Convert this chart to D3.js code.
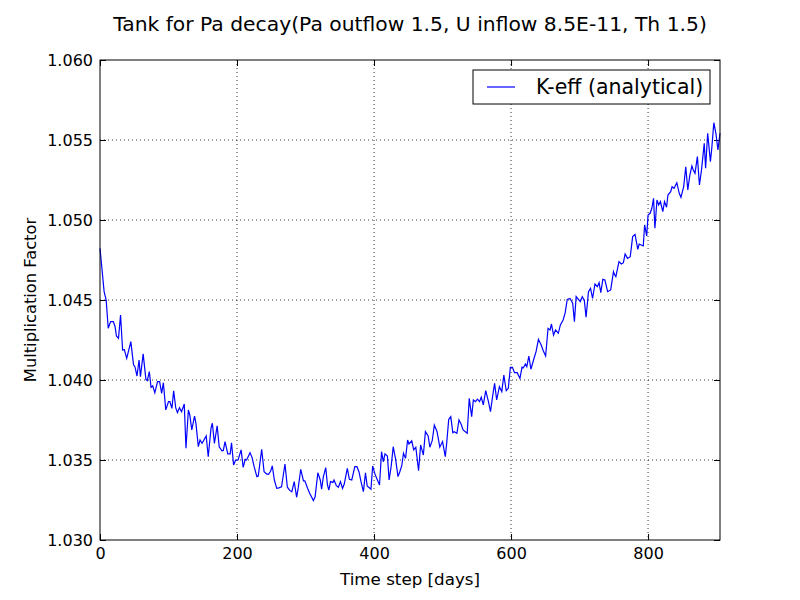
<!DOCTYPE html>
<html>
<head>
<meta charset="utf-8">
<script src="https://cdn.jsdelivr.net/npm/d3@7"></script>
<style>
  body { margin: 0; background: #fff; }
  text { font-family: "DejaVu Sans", sans-serif; }
</style>
</head>
<body>
<div id="chart"></div>
<script>
// time step in days
var days = [0, 6, 9, 12, 15.5, 19.5, 22, 24, 27, 30, 33, 35.5, 39, 45, 49, 51, 54, 57, 59, 63, 67, 69, 72, 74.5, 77, 80, 84, 87, 90, 92.5, 96, 100, 102, 105, 107.5, 110.5, 113, 116, 119, 123, 125.5, 129, 131, 134, 138, 140, 143.5, 146, 149, 155, 158, 162, 164, 167, 171, 174, 178, 180, 182.5, 186.5, 190, 192, 195, 198, 201.5, 206, 209, 212, 214, 219, 222, 225, 229, 231,
  236, 239.5, 243, 246, 249, 251.5, 254.5, 258, 261, 265, 270, 273.5, 277, 280, 283.5, 287, 289.5, 293, 297, 299, 303, 306, 311.5, 314, 318, 321.5, 323.5, 326, 329.5, 332, 334, 336.5, 340, 341.5, 345, 348, 351, 354, 356.5, 361, 364, 367.5, 372, 375, 378, 381, 384.5, 387.5, 390, 395.5, 398, 401.5, 408, 411, 413.5, 416, 419.5, 422, 425, 428, 431.5, 435, 437.5, 440.5, 443, 446, 449, 451,
  455, 458, 461, 465, 468, 472, 475, 479, 481.5, 485, 488, 492, 496, 500, 504, 506, 509, 512, 515, 517, 521, 524, 527, 530, 536, 539, 542.5, 545, 548, 551, 554, 556.5, 559.5, 563, 567, 570, 573, 576, 579, 583, 586.5, 589.5, 593, 596, 599, 602, 605, 609, 613, 616, 618, 621, 623, 626, 629, 634, 636.5, 640, 644, 647, 650.5, 654, 657, 659, 662, 665, 669, 672,
  676, 679, 682, 686, 690, 692.5, 695, 701, 704, 707, 709.5, 713, 716, 719, 722.5, 726, 728.5, 731, 734, 737, 741, 745.5, 749.5, 751, 753, 757.5, 761, 764, 766.5, 770, 774, 777.5, 781, 785, 787, 790, 793, 795, 798, 800, 803, 805.5, 808, 810, 813, 815.5, 818, 821.5, 824, 827, 829, 833, 835, 838, 842, 845.5, 848, 852, 855, 858, 861, 864, 866, 868.5, 872, 875, 878, 882, 884, 887, 891, 893, 896, 899, 902, 905];

// multiplication factor K-eff
var keff = [1.04823, 1.04552, 1.04500, 1.04323, 1.04365, 1.04365, 1.04333, 1.04275, 1.04260, 1.04406, 1.04188, 1.04190, 1.04135, 1.04240, 1.04094, 1.04083, 1.04025, 1.04125, 1.04020, 1.04163, 1.04004, 1.03996, 1.04052, 1.03954, 1.03963, 1.03920, 1.03990, 1.03990, 1.03917, 1.03983, 1.03813, 1.03865, 1.03865, 1.03823, 1.03933, 1.03827, 1.03796, 1.03827, 1.03802, 1.03850, 1.03573, 1.03813, 1.03783, 1.03688, 1.03775, 1.03730, 1.03583, 1.03625, 1.03604, 1.03650, 1.03520, 1.03698, 1.03730, 1.03604, 1.03713, 1.03583, 1.03558, 1.03560, 1.03615, 1.03538, 1.03538, 1.03608, 1.03469, 1.03500, 1.03500, 1.03563, 1.03454, 1.03504, 1.03500, 1.03546, 1.03515, 1.03458, 1.03396, 1.03400,
  1.03567, 1.03427, 1.03413, 1.03410, 1.03430, 1.03463, 1.03375, 1.03323, 1.03326, 1.03333, 1.03475, 1.03330, 1.03310, 1.03302, 1.03365, 1.03267, 1.03330, 1.03442, 1.03370, 1.03370, 1.03323, 1.03292, 1.03246, 1.03270, 1.03420, 1.03375, 1.03317, 1.03395, 1.03452, 1.03344, 1.03312, 1.03365, 1.03360, 1.03375, 1.03340, 1.03330, 1.03365, 1.03323, 1.03350, 1.03448, 1.03379, 1.03375, 1.03458, 1.03458, 1.03427, 1.03365, 1.03302, 1.03420, 1.03338, 1.03317, 1.03463, 1.03410, 1.03344, 1.03552, 1.03489, 1.03538, 1.03525, 1.03375, 1.03460, 1.03583, 1.03504, 1.03396, 1.03425, 1.03465, 1.03542, 1.03510, 1.03625, 1.03600, 1.03620,
  1.03563, 1.03580, 1.03433, 1.03594, 1.03531, 1.03677, 1.03650, 1.03580, 1.03622, 1.03719, 1.03677, 1.03580, 1.03615, 1.03521, 1.03602, 1.03754, 1.03771, 1.03671, 1.03677, 1.03667, 1.03750, 1.03725, 1.03688, 1.03667, 1.03885, 1.03771, 1.03875, 1.03865, 1.03880, 1.03865, 1.03892, 1.03844, 1.03933, 1.03865, 1.03802, 1.03896, 1.03979, 1.03875, 1.03958, 1.03927, 1.04031, 1.03933, 1.03948, 1.04079, 1.04079, 1.04046, 1.04046, 1.04010, 1.04080, 1.04076, 1.04100, 1.04083, 1.04150, 1.04067, 1.04142, 1.04177, 1.04254, 1.04219, 1.04183, 1.04150, 1.04323, 1.04313, 1.04350, 1.04281, 1.04313, 1.04292, 1.04344, 1.04375,
  1.04420, 1.04504, 1.04510, 1.04480, 1.04365, 1.04521, 1.04490, 1.04521, 1.04496, 1.04392, 1.04552, 1.04573, 1.04510, 1.04600, 1.04583, 1.04608, 1.04546, 1.04629, 1.04625, 1.04552, 1.04563, 1.04677, 1.04660, 1.04646, 1.04740, 1.04725, 1.04733, 1.04788, 1.04760, 1.04771, 1.04896, 1.04910, 1.04817, 1.04850, 1.04844, 1.04838, 1.04969, 1.04900, 1.05031, 1.05042, 1.05073, 1.05135, 1.04948, 1.05125, 1.05094, 1.05115, 1.05052, 1.05115, 1.05080, 1.05156, 1.05177, 1.05208, 1.05198, 1.05233, 1.05167, 1.05142, 1.05208, 1.05333, 1.05188, 1.05281, 1.05338, 1.05313, 1.05292, 1.05396, 1.05219, 1.05313, 1.05479, 1.05323, 1.05542, 1.05365, 1.05448, 1.05608, 1.05542, 1.05438, 1.05542, 1.05552, 1.05500, 1.05708];

var xTicks = [0, 200, 400, 600, 800];
var yTicks = [1.030, 1.035, 1.040, 1.045, 1.050, 1.055, 1.060];

var W = 800, H = 600;
var margin = {top: 60, right: 80, bottom: 60, left: 100},
    width = W - margin.left - margin.right,
    height = H - margin.top - margin.bottom;

var svg = d3.select("#chart").append("svg")
    .attr("width", W)
    .attr("height", H);

var g = svg.append("g")
    .attr("transform", "translate(" + margin.left + "," + margin.top + ")");

var xScale = d3.scaleLinear().domain([0, 905]).range([0, width]);
var yScale = d3.scaleLinear().domain([1.030, 1.060]).range([height, 0]);

// dotted grid
g.append("g").selectAll("line").data(xTicks.slice(1)).join("line")
    .attr("x1", d => xScale(d)).attr("x2", d => xScale(d))
    .attr("y1", 0).attr("y2", height)
    .attr("stroke", "#000").attr("stroke-width", 0.8).attr("stroke-dasharray", "1,3");
g.append("g").selectAll("line").data(yTicks.slice(1, -1)).join("line")
    .attr("y1", d => yScale(d)).attr("y2", d => yScale(d))
    .attr("x1", 0).attr("x2", width)
    .attr("stroke", "#000").attr("stroke-width", 0.8).attr("stroke-dasharray", "1,3");

// axes, ticks inside like matplotlib classic
var xb = g.append("g").attr("transform", "translate(0," + height + ")")
    .call(d3.axisBottom(xScale).tickValues(xTicks).tickSizeInner(-6).tickSizeOuter(0).tickPadding(8));
var xt = g.append("g")
    .call(d3.axisTop(xScale).tickValues(xTicks).tickSizeInner(-6).tickSizeOuter(0).tickFormat(""));
var yl = g.append("g")
    .call(d3.axisLeft(yScale).tickValues(yTicks).tickSizeInner(-6).tickSizeOuter(0).tickPadding(7).tickFormat(d3.format(".3f")));
var yr = g.append("g").attr("transform", "translate(" + width + ",0)")
    .call(d3.axisRight(yScale).tickValues(yTicks).tickSizeInner(-6).tickSizeOuter(0).tickFormat(""));

[xb, xt, yl, yr].forEach(function(a) {
  a.select(".domain").remove();
  a.selectAll("line").attr("stroke", "#000");
  a.selectAll("text").attr("font-size", 16).attr("fill", "#000")
    .attr("font-family", "DejaVu Sans, sans-serif");
});

// the line
var line = d3.line()
    .x(function(d, i) { return xScale(days[i]); })
    .y(function(d) { return yScale(d); });

g.append("path")
    .datum(keff)
    .attr("fill", "none")
    .attr("stroke", "#0000ff")
    .attr("stroke-width", 1.2)
    .attr("d", line);

// frame
g.append("rect")
    .attr("width", width).attr("height", height)
    .attr("fill", "none").attr("stroke", "#000").attr("stroke-width", 1);

// legend
var leg = g.append("g").attr("transform", "translate(" + (width - 247) + ",10)");
leg.append("rect").attr("width", 237).attr("height", 34)
    .attr("fill", "#fff").attr("stroke", "#000").attr("stroke-width", 1);
leg.append("line").attr("x1", 14).attr("x2", 42).attr("y1", 17).attr("y2", 17)
    .attr("stroke", "#0000ff").attr("stroke-width", 1.2);
leg.append("text").attr("x", 63).attr("y", 24)
    .attr("font-size", 20.5).text("K-eff (analytical)");

// titles
svg.append("text")
    .attr("x", margin.left + width / 2).attr("y", 31)
    .attr("text-anchor", "middle").attr("font-size", 20.3)
    .text("Tank for Pa decay(Pa outflow 1.5, U inflow 8.5E-11, Th 1.5)");

svg.append("text")
    .attr("x", margin.left + width / 2).attr("y", 585)
    .attr("text-anchor", "middle").attr("font-size", 16.7)
    .text("Time step [days]");

svg.append("text")
    .attr("transform", "translate(36," + (margin.top + height / 2) + ") rotate(-90)")
    .attr("text-anchor", "middle").attr("font-size", 16.3)
    .text("Multiplication Factor");
</script>
</body>
</html>
